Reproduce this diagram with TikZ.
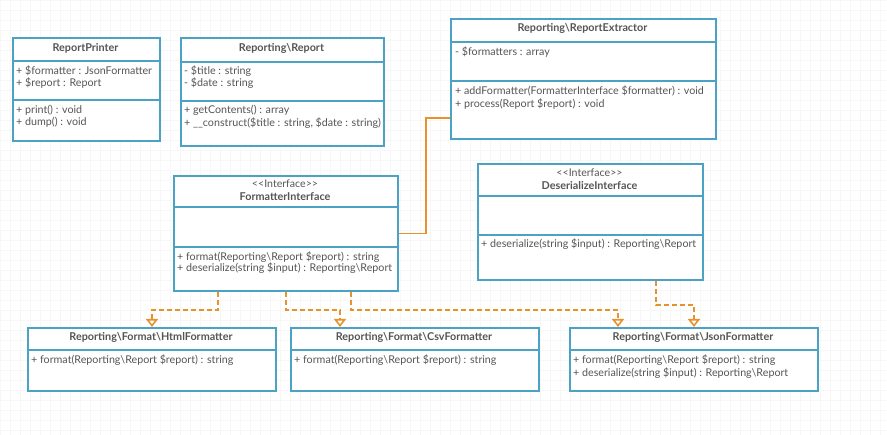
\documentclass[tikz,border=0pt]{standalone}
\usepackage{fontspec}
\newfontfamily\latofont{Lato}
\usetikzlibrary{arrows.meta}
\definecolor{boxblue}{HTML}{4CA2C4}
\definecolor{linkorange}{HTML}{E8922E}
\definecolor{txt}{HTML}{555555}
\begin{document}
\begin{tikzpicture}[x=1pt,y=-1pt,
  umlbox/.style={draw=boxblue,line width=1.8pt,fill=white,inner sep=0,anchor=north west},
  div/.style={draw=boxblue,line width=1.8pt},
  ttl/.style={font=\latofont\fontsize{10.8}{12}\selectfont\bfseries,text=txt,inner sep=0},
  stereo/.style={font=\latofont\fontsize{10.6}{12}\selectfont,text=txt,inner sep=0},
  mem/.style={font=\latofont\fontsize{10.7}{12}\selectfont,text=txt,inner sep=0,anchor=west},
  dep/.style={draw=linkorange,line width=1.6pt,dash pattern=on 5pt off 3pt,-{Triangle[open,width=12pt,length=8pt]}},
  assocline/.style={draw=linkorange,line width=1.6pt}]
\useasboundingbox (0,0) rectangle (887,435);
\fill[white] (0,0) rectangle (887,435);
\draw[black!3,line width=0.5pt,step=10pt] (0pt,0pt) grid (887pt,-435pt);

% ReportPrinter
\node[umlbox,minimum width=147pt,minimum height=103pt] (rp) at (12,37) {};
\draw[div] (rp.west|-0,61) -- (rp.east|-0,61);
\draw[div] (rp.west|-0,100) -- (rp.east|-0,100);
\node[ttl] (rpt) at (85.5,48) {ReportPrinter};
\node[mem] (rp1) at (16,70.7) {+ \$formatter : JsonFormatter};
\node[mem] (rp2) at (16,83.3) {+ \$report : Report};
\node[mem] (rp3) at (16,110) {+ print() : void};
\node[mem] (rp4) at (16,122.7) {+ dump() : void};

% Reporting\Report
\node[umlbox,minimum width=203pt,minimum height=108pt] (rr) at (180,37) {};
\draw[div] (rr.west|-0,62) -- (rr.east|-0,62);
\draw[div] (rr.west|-0,101) -- (rr.east|-0,101);
\node[ttl] (rrt) at (281.5,48) {Reporting\textbackslash Report};
\node[mem] (rr1) at (184,70.7) {- \$title : string};
\node[mem] (rr2) at (184,83.3) {- \$date : string};
\node[mem] (rr3) at (184,110) {+ getContents() : array};
\node[mem] (rr4) at (184,122.7) {+ \_\_construct(\$title : string, \$date : string)};

% ReportExtractor
\node[umlbox,minimum width=265pt,minimum height=120pt] (re) at (450,18) {};
\draw[div] (re.west|-0,42) -- (re.east|-0,42);
\draw[div] (re.west|-0,81) -- (re.east|-0,81);
\node[ttl] (ret) at (582.5,28) {Reporting\textbackslash ReportExtractor};
\node[mem] (re1) at (455,51.7) {- \$formatters : array};
\node[mem] (re2) at (455,91) {+ addFormatter(FormatterInterface \$formatter) : void};
\node[mem] (re3) at (455,104) {+ process(Report \$report) : void};

% FormatterInterface
\node[umlbox,minimum width=224pt,minimum height=115pt] (fi) at (173,175) {};
\draw[div] (fi.west|-0,207) -- (fi.east|-0,207);
\draw[div] (fi.west|-0,247) -- (fi.east|-0,247);
\node[stereo] (fis) at (285,184) {<<Interface>>};
\node[ttl] (fit) at (285,197) {FormatterInterface};
\node[mem] (fi1) at (177,256.7) {+ format(Reporting\textbackslash Report \$report) : string};
\node[mem] (fi2) at (177,268.3) {+ deserialize(string \$input) : Reporting\textbackslash Report};

% DeserializeInterface
\node[umlbox,minimum width=225pt,minimum height=116pt] (di) at (477,163) {};
\draw[div] (di.west|-0,196) -- (di.east|-0,196);
\draw[div] (di.west|-0,235) -- (di.east|-0,235);
\node[stereo] (dis) at (589.5,172.3) {<<Interface>>};
\node[ttl] (dit) at (589.5,185.7) {DeserializeInterface};
\node[mem] (di1) at (481,244.3) {+ deserialize(string \$input) : Reporting\textbackslash Report};

% HtmlFormatter
\node[umlbox,minimum width=248pt,minimum height=63pt] (hf) at (27,327) {};
\draw[div] (hf.west|-0,350) -- (hf.east|-0,350);
\node[ttl] (hft) at (151,337) {Reporting\textbackslash Format\textbackslash HtmlFormatter};
\node[mem] (hf1) at (31,360) {+ format(Reporting\textbackslash Report \$report) : string};

% CsvFormatter
\node[umlbox,minimum width=248pt,minimum height=63pt] (cf) at (290,327) {};
\draw[div] (cf.west|-0,350) -- (cf.east|-0,350);
\node[ttl] (cft) at (414,337) {Reporting\textbackslash Format\textbackslash CsvFormatter};
\node[mem] (cf1) at (294,360) {+ format(Reporting\textbackslash Report \$report) : string};

% JsonFormatter
\node[umlbox,minimum width=248pt,minimum height=63pt] (jf) at (569,327) {};
\draw[div] (jf.west|-0,350) -- (jf.east|-0,350);
\node[ttl] (jft) at (693,337) {Reporting\textbackslash Format\textbackslash JsonFormatter};
\node[mem] (jf1) at (573,360) {+ format(Reporting\textbackslash Report \$report) : string};
\node[mem] (jf2) at (573,373.3) {+ deserialize(string \$input) : Reporting\textbackslash Report};

% connectors
\draw[assocline] (fi.east) -- ++(27,0) |- ([yshift=-39pt]re.west);
\draw[dep] ([xshift=45pt]fi.south west) -- ++(0,18) -| ([xshift=125pt]hf.north west);
\draw[dep] ([xshift=113pt]fi.south west) -- ++(0,18) -| ([xshift=50pt]cf.north west);
\draw[dep] ([xshift=178pt]fi.south west) -- ++(0,18) -| ([xshift=49pt]jf.north west);
\draw[dep] ([xshift=179pt]di.south west) -- ++(0,24) -| ([xshift=125pt]jf.north west);
\end{tikzpicture}
\end{document}
